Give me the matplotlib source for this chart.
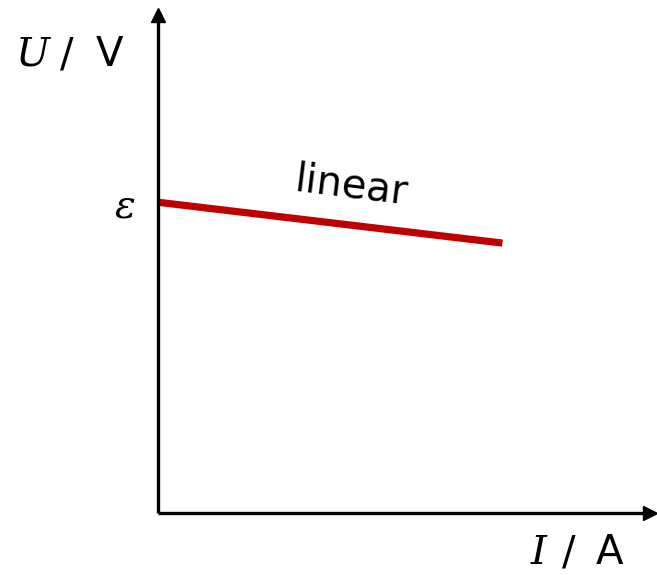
import matplotlib.pyplot as plt

# data (axes run 0..1, no scale)
current = [0.0, 0.70]
voltage = [0.624, 0.542]
emf = 0.624

plt.rcParams['mathtext.fontset'] = 'dejavuserif'
plt.rcParams['font.family'] = 'DejaVu Sans'

W, H = 657, 575
fig = plt.figure(figsize=(W / 100, H / 100), dpi=100)
ax = fig.add_axes([158 / W, (H - 513) / H, 492 / W, 498 / H])
ax.set_xlim(0, 1)
ax.set_ylim(0, 1)

for s in ["top", "right"]:
    ax.spines[s].set_visible(False)
for s in ["left", "bottom"]:
    ax.spines[s].set_linewidth(2.4)
    ax.spines[s].set_capstyle("butt")

# arrow heads
ax.plot(1, 0, ">k", markersize=10, transform=ax.get_yaxis_transform(), clip_on=False)
ax.plot(0, 1, "^k", markersize=10, transform=ax.get_xaxis_transform(), clip_on=False)

ax.plot(current, voltage, color="#c00000", linewidth=5.2, solid_capstyle="butt")

ax.set_xticks([])
ax.set_yticks([emf])
ax.set_yticklabels([r"$\varepsilon$"], fontsize=28)
ax.tick_params(axis="y", length=0, pad=16)

ax.text(0.392, 0.655, "linear", fontsize=29, rotation=-7,
        ha="center", va="center")

# axis labels, pieces placed by hand like the reference spacing
def label(parts, y):
    for x, s in parts:
        fig.text(x / W, 1 - y / H, s, fontsize=29, ha="left", va="baseline")

label([(15, r"$U$"), (60, "/"), (96, "V")], 66)
label([(530, r"$I$"), (562, "/"), (596, "A")], 564)

fig.savefig("out.png", dpi=100)
